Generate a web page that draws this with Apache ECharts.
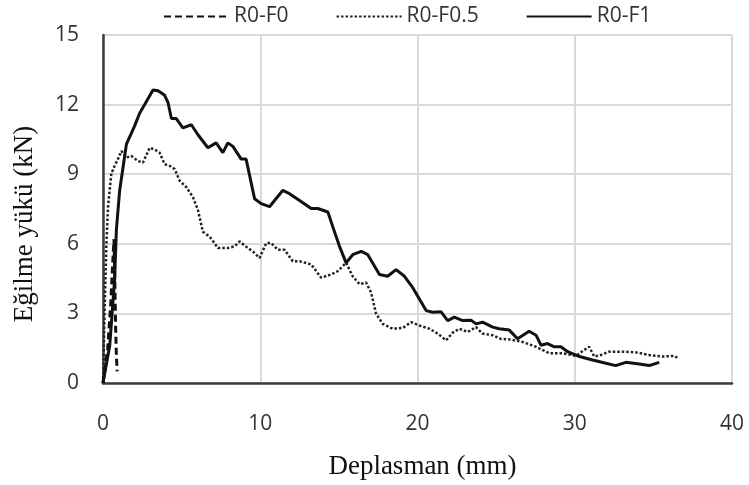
<!DOCTYPE html>
<html>
<head>
<meta charset="utf-8">
<script src="https://cdn.jsdelivr.net/npm/echarts@6/dist/echarts.min.js"></script>
<style>
html,body{margin:0;padding:0;background:#fff;}
#c{width:749px;height:485px;}
</style>
</head>
<body>
<div id="c"></div>
<script>
// R0-F0 (dashed)
var xF0 = [0, 0.3, 0.5, 0.62, 0.7, 0.75, 0.8, 0.85, 0.9];
var yF0 = [0, 1.5, 3.5, 5.2, 6.2, 4.5, 2.5, 1.2, 0.5];
// R0-F0.5 (dotted)
var xF05 = [0, 0.1, 0.21, 0.32, 0.53, 0.74, 0.95, 1.17, 1.49, 1.8, 2.22, 2.54, 2.97, 3.28, 3.6, 3.92, 4.24, 4.56, 4.87, 5.3, 5.72, 6.04, 6.35, 6.78, 7.31, 7.94, 8.37, 8.69, 9.21, 9.53, 9.96, 10.38, 10.7, 11.12, 11.54, 12.07, 12.5, 13.24, 13.87, 14.51, 14.93, 15.46, 15.88, 16.31, 16.73, 17.05, 17.37, 17.79, 18.42, 19.06, 19.59, 20.12, 20.76, 21.28, 21.82, 22.24, 22.66, 23.19, 23.72, 24.14, 24.78, 25.3, 25.84, 26.68, 27.54, 28.38, 29.22, 30.08, 30.6, 30.92, 31.24, 31.66, 32.19, 33.04, 33.89, 34.73, 35.58, 36.32, 36.6];
var yF05 = [0, 3.05, 5.89, 7.6, 9.02, 9.36, 9.65, 10.0, 9.72, 9.79, 9.57, 9.5, 10.14, 10.07, 9.93, 9.43, 9.36, 9.22, 8.72, 8.44, 8.01, 7.45, 6.52, 6.31, 5.82, 5.82, 5.89, 6.1, 5.82, 5.67, 5.39, 6.03, 6.03, 5.74, 5.74, 5.25, 5.25, 5.11, 4.54, 4.68, 4.82, 5.18, 4.6, 4.26, 4.33, 3.9, 2.98, 2.55, 2.34, 2.37, 2.62, 2.48, 2.34, 2.13, 1.84, 2.17, 2.34, 2.2, 2.41, 2.13, 2.06, 1.9, 1.88, 1.77, 1.56, 1.28, 1.28, 1.17, 1.42, 1.56, 1.14, 1.21, 1.35, 1.35, 1.32, 1.21, 1.14, 1.17, 1.06];
// R0-F1 (solid)
var xF1 = [0, 0.43, 0.74, 0.85, 1.06, 1.49, 2.0, 2.33, 2.65, 3.18, 3.5, 3.92, 4.13, 4.35, 4.66, 5.08, 5.62, 6.04, 6.67, 7.2, 7.62, 7.94, 8.26, 8.79, 9.1, 9.64, 10.06, 10.59, 11.0, 11.43, 11.86, 12.5, 13.24, 13.66, 14.3, 14.61, 15.04, 15.46, 15.88, 16.42, 16.84, 17.58, 18.1, 18.64, 19.17, 19.7, 20.55, 20.97, 21.5, 21.92, 22.34, 22.87, 23.4, 23.72, 24.14, 24.78, 25.2, 25.84, 26.36, 27.1, 27.54, 27.85, 28.27, 28.7, 29.12, 29.55, 30.3, 31.13, 31.98, 32.6, 33.25, 34.1, 34.73, 35.37];
var yF1 = [0, 1.63, 4.47, 6.6, 8.3, 10.3, 11.06, 11.63, 12.0, 12.63, 12.6, 12.4, 12.1, 11.4, 11.4, 11.0, 11.13, 10.7, 10.14, 10.35, 9.93, 10.35, 10.2, 9.65, 9.65, 7.94, 7.73, 7.6, 7.94, 8.3, 8.16, 7.87, 7.52, 7.52, 7.37, 6.74, 5.89, 5.18, 5.53, 5.67, 5.53, 4.68, 4.6, 4.89, 4.6, 4.11, 3.12, 3.05, 3.07, 2.69, 2.84, 2.69, 2.71, 2.55, 2.62, 2.41, 2.34, 2.28, 1.91, 2.23, 2.06, 1.63, 1.7, 1.56, 1.56, 1.35, 1.14, 0.99, 0.85, 0.75, 0.89, 0.82, 0.75, 0.89];

var xTicks = {min: 0, max: 40, interval: 10};
var yTicks = {min: 0, max: 15, interval: 3};
var seriesNames = ['R0-F0', 'R0-F0.5', 'R0-F1'];

function zip(xs, ys) { return xs.map(function (x, i) { return [x, ys[i]]; }); }

var chart = echarts.init(document.getElementById('c'), null, {renderer: 'canvas'});
var axisColor = '#3a3a3a';
var labelFont = {fontFamily: 'Open Sans', fontSize: 21, color: '#333'};
chart.setOption({
  animation: false,
  backgroundColor: '#fff',
  grid: {left: 103, right: 17, top: 35, bottom: 100},
  legend: {
    top: 1, left: 158,
    itemWidth: 65, itemHeight: 14, itemGap: 47,
    itemStyle: {opacity: 0, borderWidth: 0},
    textStyle: {fontFamily: 'Open Sans', fontSize: 21, color: '#333'},
    data: seriesNames
  },
  xAxis: {
    type: 'value', min: xTicks.min, max: xTicks.max, interval: xTicks.interval,
    name: 'Deplasman (mm)', nameLocation: 'middle', nameGap: 70,
    nameTextStyle: {fontFamily: 'Liberation Serif', fontSize: 27, color: '#111', padding: [0, 0, 0, 10]},
    axisLine: {show: true, lineStyle: {color: axisColor, width: 2.5}},
    axisTick: {show: false},
    axisLabel: Object.assign({margin: 31}, labelFont),
    splitLine: {show: true, lineStyle: {color: '#d9d9d9', width: 2}}
  },
  yAxis: {
    type: 'value', min: yTicks.min, max: yTicks.max, interval: yTicks.interval,
    name: 'Eğilme yükü (kN)', nameLocation: 'middle', nameGap: 65, nameRotate: 90,
    nameTextStyle: {fontFamily: 'Liberation Serif', fontSize: 27, color: '#111', padding: [0, 30, 0, 0]},
    axisLine: {show: true, lineStyle: {color: axisColor, width: 2.5}},
    axisTick: {show: false},
    axisLabel: Object.assign({margin: 24}, labelFont),
    splitLine: {show: true, lineStyle: {color: '#d9d9d9', width: 2}}
  },
  series: [
    {name: seriesNames[0], type: 'line', showSymbol: false, symbol: 'none', z: 3,
     data: zip(xF0, yF0), lineStyle: {color: '#111', width: 3, type: [7, 4]}, itemStyle: {color: '#111'}},
    {name: seriesNames[1], type: 'line', showSymbol: false, symbol: 'none', z: 2,
     data: zip(xF05, yF05), lineStyle: {color: '#222', width: 2.5, type: [2.5, 2]}, itemStyle: {color: '#222'}},
    {name: seriesNames[2], type: 'line', showSymbol: false, symbol: 'none', z: 4,
     data: zip(xF1, yF1), lineStyle: {color: '#111', width: 3}, itemStyle: {color: '#111'}}
  ]
});
</script>
</body>
</html>
